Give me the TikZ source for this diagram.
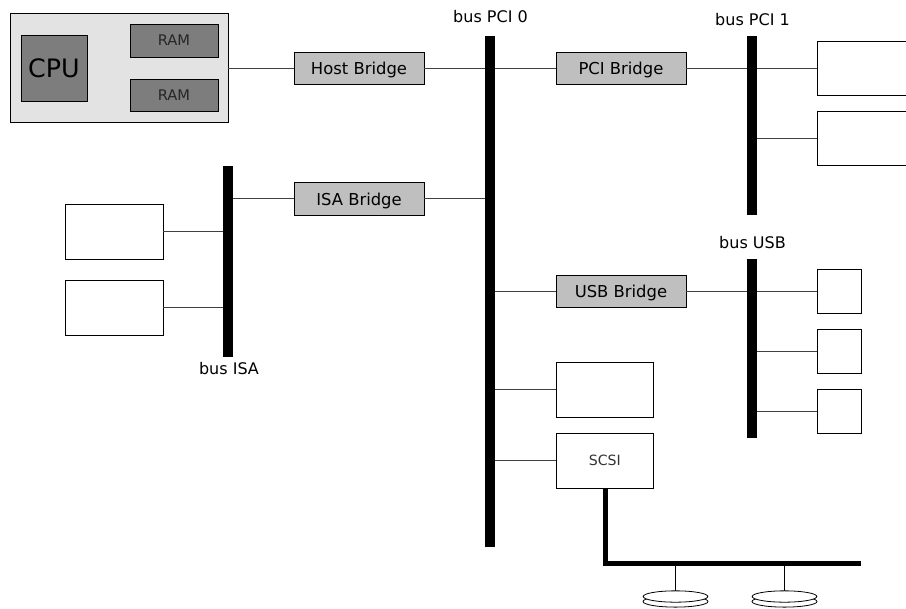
\documentclass[tikz,border=0pt]{standalone}
\usepackage{fontspec}
\setmainfont{DejaVu Sans}
\usetikzlibrary{shapes.geometric}
\definecolor{bridgegrey}{gray}{0.75}
\definecolor{hostgrey}{gray}{0.89}
\definecolor{chipgrey}{gray}{0.49}
\definecolor{wiregrey}{gray}{0.25}
\tikzset{
  x=0.75pt,y=-0.75pt,
  wire/.style={draw=wiregrey,line width=0.6pt},
  boxbase/.style={draw=black,line width=0.6pt,inner sep=0pt,outer sep=0pt,text=black},
  plainbox/.style={boxbase,fill=white},
  bridge/.style={boxbase,fill=bridgegrey,text depth=0pt,font=\fontsize{12.3}{14}\selectfont},
  hostbox/.style={boxbase,fill=hostgrey},
  chip/.style={boxbase,fill=chipgrey},
  ramchip/.style={chip,text=black!85,font=\fontsize{11}{13}\selectfont},
  busbar/.style={fill=black,draw=none,inner sep=0pt,outer sep=0pt},
  buslabel/.style={inner sep=0pt,font=\fontsize{12}{14}\selectfont},
  disktop/.style={ellipse,draw=black,fill=white,line width=0.6pt,inner sep=0pt,outer sep=0pt,minimum width=48.5pt,minimum height=8.5pt},
  scsibus/.style={draw=black,line width=3.75pt,line join=miter}
}
% name, x1, y1, x2, y2, style, text
\newcommand{\pxbox}[7]{%
  \node[#6,minimum width={0.75pt*(#4-#2)},minimum height={0.75pt*(#5-#3)}] (#1) at ({(#2+#4)/2},{(#3+#5)/2}) {#7};}
\begin{document}
\begin{tikzpicture}
\clip (0,0) rectangle (906,608);
% host
\pxbox{host}{10.7}{13}{228}{122}{hostbox}{}
\pxbox{cpu}{21}{35}{87}{101}{chip,font=\fontsize{19}{22}\selectfont}{CPU}
\pxbox{ramA}{130}{24}{218}{57}{ramchip}{RAM}
\pxbox{ramB}{130}{79}{218}{111}{ramchip}{RAM}
% bridges
\pxbox{hostbr}{294}{52}{424}{84}{bridge}{Host Bridge}
\pxbox{pcibr}{555.9}{52}{686}{84}{bridge}{PCI Bridge}
\pxbox{isabr}{294}{182.6}{424}{215}{bridge}{ISA Bridge}
\pxbox{usbbr}{555.9}{275}{686}{307}{bridge}{USB Bridge}
% buses
\pxbox{pcizero}{485}{36}{495}{547}{busbar}{}
\pxbox{pcione}{746.7}{36}{757}{215}{busbar}{}
\pxbox{isabus}{223}{166}{233.4}{357}{busbar}{}
\pxbox{usbbus}{746.7}{259}{757}{438}{busbar}{}
% bus labels
\node[buslabel] (lzero) at (490.5,16.5) {bus PCI 0};
\node[buslabel] (lone) at (752.5,19.5) {bus PCI 1};
\node[buslabel] (lusb) at (752.5,243) {bus USB};
\node[buslabel] (lisa) at (229,368.5) {bus ISA};
% devices
\pxbox{pcidevA}{817}{41}{930}{95}{plainbox}{}
\pxbox{pcidevB}{817}{111}{930}{165}{plainbox}{}
\pxbox{isadevA}{65}{204}{163.4}{259}{plainbox}{}
\pxbox{isadevB}{65}{280}{163.4}{335}{plainbox}{}
\pxbox{usbdevA}{817}{269.7}{861}{313}{plainbox}{}
\pxbox{usbdevB}{817}{329.7}{861}{373}{plainbox}{}
\pxbox{usbdevC}{817}{389.7}{861}{433}{plainbox}{}
\pxbox{plaindev}{555.9}{362}{653.7}{417}{plainbox}{}
\pxbox{scsi}{555.9}{433}{653.7}{488}{plainbox,text=black!80,font=\fontsize{10.6}{12}\selectfont}{SCSI}
% connectors
\draw[wire] (host.east |- hostbr.west) -- (hostbr.west);
\draw[wire] (hostbr.east) -- (hostbr.east -| pcizero.west);
\draw[wire] (pcizero.east |- pcibr.west) -- (pcibr.west);
\draw[wire] (pcibr.east) -- (pcibr.east -| pcione.west);
\draw[wire] (pcione.east |- pcidevA.west) -- (pcidevA.west);
\draw[wire] (pcione.east |- pcidevB.west) -- (pcidevB.west);
\draw[wire] (isabr.west) -- (isabr.west -| isabus.east);
\draw[wire] (isabr.east) -- (isabr.east -| pcizero.west);
\draw[wire] (isadevA.east) -- (isadevA.east -| isabus.west);
\draw[wire] (isadevB.east) -- (isadevB.east -| isabus.west);
\draw[wire] (pcizero.east |- usbbr.west) -- (usbbr.west);
\draw[wire] (usbbr.east) -- (usbbr.east -| usbbus.west);
\draw[wire] (usbbus.east |- usbdevA.west) -- (usbdevA.west);
\draw[wire] (usbbus.east |- usbdevB.west) -- (usbdevB.west);
\draw[wire] (usbbus.east |- usbdevC.west) -- (usbdevC.west);
\draw[wire] (pcizero.east |- plaindev.west) -- (plaindev.west);
\draw[wire] (pcizero.east |- scsi.west) -- (scsi.west);
% scsi bus
\coordinate (scsibot) at (605.5,488);
\coordinate (scsicorner) at (605.5,563.5);
\coordinate (scsiend) at (861,563.5);
\draw[scsibus] (scsibot) -- (scsicorner) -- (scsiend);
% disks
\foreach \nm/\cx in {diskA/675.5,diskB/784.5}{
  \draw[line width=0.6pt,fill=white] (\cx,601.5) ellipse [x radius=32.5,y radius=5.6];
  \node[disktop] (\nm) at (\cx,596.5) {};
  \coordinate (\nm top) at (\cx,563.5);
  \draw[draw=black,line width=0.6pt] (\nm top) -- (\nm.north);
}
\end{tikzpicture}
\end{document}
